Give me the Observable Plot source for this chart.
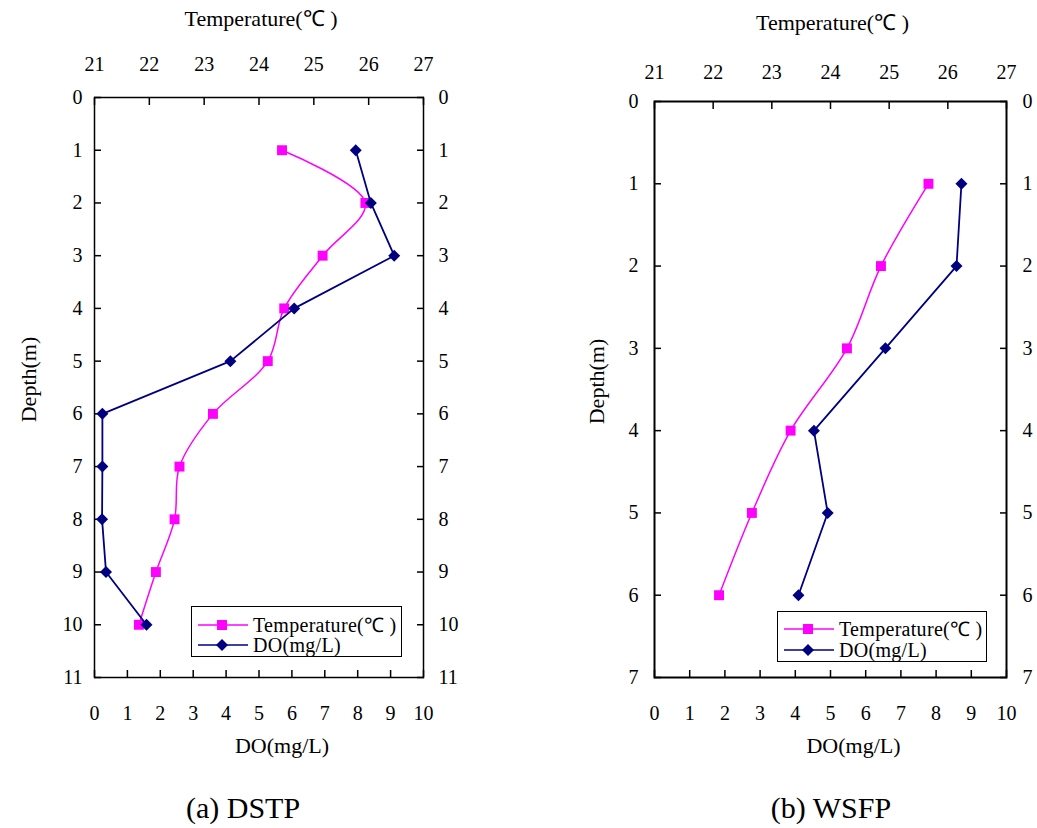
<!DOCTYPE html>
<html><head><meta charset="utf-8">
<script src="https://cdn.jsdelivr.net/npm/d3@7"></script>
<script src="https://cdn.jsdelivr.net/npm/@observablehq/plot@0.6"></script>
<style>
body{margin:0;background:#fff;}
#root{position:relative;width:1037px;height:828px;background:#fff;font-family:"Liberation Serif",serif;color:#000;overflow:hidden;}
.layer{position:absolute;top:0;}
.legend{position:absolute;box-sizing:border-box;border:1px solid #000;background:#fff;}
.caption{position:absolute;font-size:30px;transform:translate(-50%,-50%);white-space:nowrap;}
</style></head><body><div id="root"></div>
<script>
// ---- data ----
const depthA = [1, 2, 3, 4, 5, 6, 7, 8, 9, 10];
const tempA  = [24.42, 25.94, 25.16, 24.46, 24.16, 23.16, 22.55, 22.46, 22.12, 21.81];
const doA    = [7.94, 8.40, 9.11, 6.07, 4.13, 0.24, 0.24, 0.23, 0.35, 1.58];

const depthB = [1, 2, 3, 4, 5, 6];
const tempB  = [25.67, 24.86, 24.28, 23.32, 22.66, 22.10];
const doB    = [8.72, 8.58, 6.56, 4.53, 4.92, 4.09];

// ---- tick labels ----
const tempTicks   = [21, 22, 23, 24, 25, 26, 27];
const doTicks     = [0, 1, 2, 3, 4, 5, 6, 7, 8, 9, 10];
const depthTicksA = [0, 1, 2, 3, 4, 5, 6, 7, 8, 9, 10, 11];
const depthTicksB = [0, 1, 2, 3, 4, 5, 6, 7];

// ---- text ----
const tempLabel = "Temperature(℃ )";
const doLabel = "DO(mg/L)";
const depthLabel = "Depth(m)";
const captions = ["(a) DSTP", "(b) WSFP"];

const TEMP_COLOR = "#ff00ff";
const DO_COLOR = "#000080";
const FONT = "Liberation Serif";
const fmt = d3.format("d");

const root = document.getElementById("root");

function panel(cfg) {
  const data = cfg.depth.map((d, i) => ({depth: d, temp: cfg.temp[i], DO: cfg.DO[i]}));
  const common = {
    width: cfg.W, height: cfg.H,
    marginLeft: cfg.ml, marginRight: cfg.mr, marginTop: cfg.mt, marginBottom: cfg.mb,
    style: {background: "transparent", fontFamily: FONT, fontSize: "20px", color: "#000", overflow: "visible"},
    y: {domain: [0, cfg.depthTicks[cfg.depthTicks.length - 1]], reverse: true, axis: null}
  };
  const tempPlot = Plot.plot({
    ...common,
    x: {domain: [21, 27], axis: null},
    marks: [
      Plot.axisX({ticks: tempTicks, tickFormat: fmt, anchor: "top", tickSize: -7, tickPadding: cfg.topPad + 7, strokeWidth: 1.5, label: null, fontSize: 20, fontFamily: FONT}),
      Plot.line(data, {x: "temp", y: "depth", stroke: TEMP_COLOR, strokeWidth: 1.5, curve: "catmull-rom"}),
      Plot.dot(data, {x: "temp", y: "depth", symbol: "square", r: 5.6, fill: TEMP_COLOR}),
      Plot.text([tempLabel], {frameAnchor: "top", dy: -79, dx: 2, fontSize: 22, fontFamily: FONT, textAnchor: "middle", lineAnchor: "middle"})
    ]
  });
  const doPlot = Plot.plot({
    ...common,
    x: {domain: [0, 10], axis: null},
    marks: [
      Plot.frame({stroke: "#000", strokeWidth: cfg.frameW}),
      Plot.axisX({ticks: doTicks, tickFormat: fmt, anchor: "bottom", tickSize: -7, tickPadding: 35.5, strokeWidth: 1.5, label: null, fontSize: 20, fontFamily: FONT}),
      Plot.axisY({ticks: cfg.depthTicks, tickFormat: fmt, anchor: "left", tickSize: -7, tickPadding: cfg.sidePadL + 7, strokeWidth: 1.5, label: null, fontSize: 20, fontFamily: FONT}),
      Plot.axisY({ticks: cfg.depthTicks, tickFormat: fmt, anchor: "right", tickSize: -7, tickPadding: cfg.sidePadR + 7, strokeWidth: 1.5, label: null, fontSize: 20, fontFamily: FONT}),
      Plot.line(data, {x: "DO", y: "depth", stroke: DO_COLOR, strokeWidth: 1.8}),
      Plot.dot(data, {x: "DO", y: "depth", symbol: "diamond2", r: 5.4, fill: DO_COLOR}),
      Plot.text([doLabel], {frameAnchor: "bottom", dy: 68, dx: 23, fontSize: 22, fontFamily: FONT, textAnchor: "middle", lineAnchor: "middle"}),
      Plot.text([depthLabel], {frameAnchor: "left", dx: cfg.depthDx, dy: -8, rotate: -90, fontSize: 22, fontFamily: FONT, textAnchor: "middle", lineAnchor: "middle"})
    ]
  });
  for (const p of [tempPlot, doPlot]) {
    const div = document.createElement("div");
    div.className = "layer";
    div.style.left = cfg.left + "px";
    div.style.width = cfg.W + "px";
    div.appendChild(p);
    root.appendChild(div);
  }
  // legend
  const lg = document.createElement("div");
  lg.className = "legend";
  Object.assign(lg.style, {left: cfg.lg.x + "px", top: cfg.lg.y + "px", width: cfg.lg.w + "px", height: cfg.lg.h + "px"});
  const svg = d3.create("svg").attr("width", cfg.lg.w - 2).attr("height", cfg.lg.h - 2).style("display", "block");
  const rows = [
    {label: tempLabel, color: TEMP_COLOR, sym: d3.symbolSquare, size: 100, y: cfg.lg.r1},
    {label: doLabel, color: DO_COLOR, sym: d3.symbolDiamond2, size: 92, y: cfg.lg.r2}
  ];
  for (const r of rows) {
    svg.append("line").attr("x1", 6).attr("x2", 56).attr("y1", r.y).attr("y2", r.y).attr("stroke", r.color).attr("stroke-width", 1.5);
    svg.append("path").attr("d", d3.symbol(r.sym, r.size)()).attr("transform", `translate(30,${r.y})`).attr("fill", r.color);
    svg.append("text").attr("x", 61).attr("y", r.y).attr("dy", "0.35em").attr("font-size", 20).attr("font-family", FONT).attr("letter-spacing", "0.3px").text(r.label);
  }
  lg.appendChild(svg.node());
  root.appendChild(lg);
  // caption
  const cap = document.createElement("div");
  cap.className = "caption";
  cap.style.left = cfg.cap.x + "px";
  cap.style.top = cfg.cap.y + "px";
  cap.textContent = cfg.cap.text;
  root.appendChild(cap);
}

panel({
  depth: depthA, temp: tempA, DO: doA, depthTicks: depthTicksA,
  left: 0, W: 480, H: 770, ml: 94, mr: 57, mt: 97, mb: 93,
  topPad: 27, sidePadL: 12, sidePadR: 15, frameW: 1.5, depthDx: -66,
  lg: {x: 191, y: 606, w: 211, h: 51, r1: 18, r2: 38},
  cap: {x: 243, y: 808, text: captions[0]}
});
panel({
  depth: depthB, temp: tempB, DO: doB, depthTicks: depthTicksB,
  left: 560, W: 477, H: 770, ml: 94, mr: 31, mt: 101, mb: 93,
  topPad: 23, sidePadL: 16, sidePadR: 16, frameW: 2, depthDx: -58,
  lg: {x: 777, y: 611, w: 210, h: 51, r1: 17, r2: 38},
  cap: {x: 831, y: 808, text: captions[1]}
});
</script></body></html>
